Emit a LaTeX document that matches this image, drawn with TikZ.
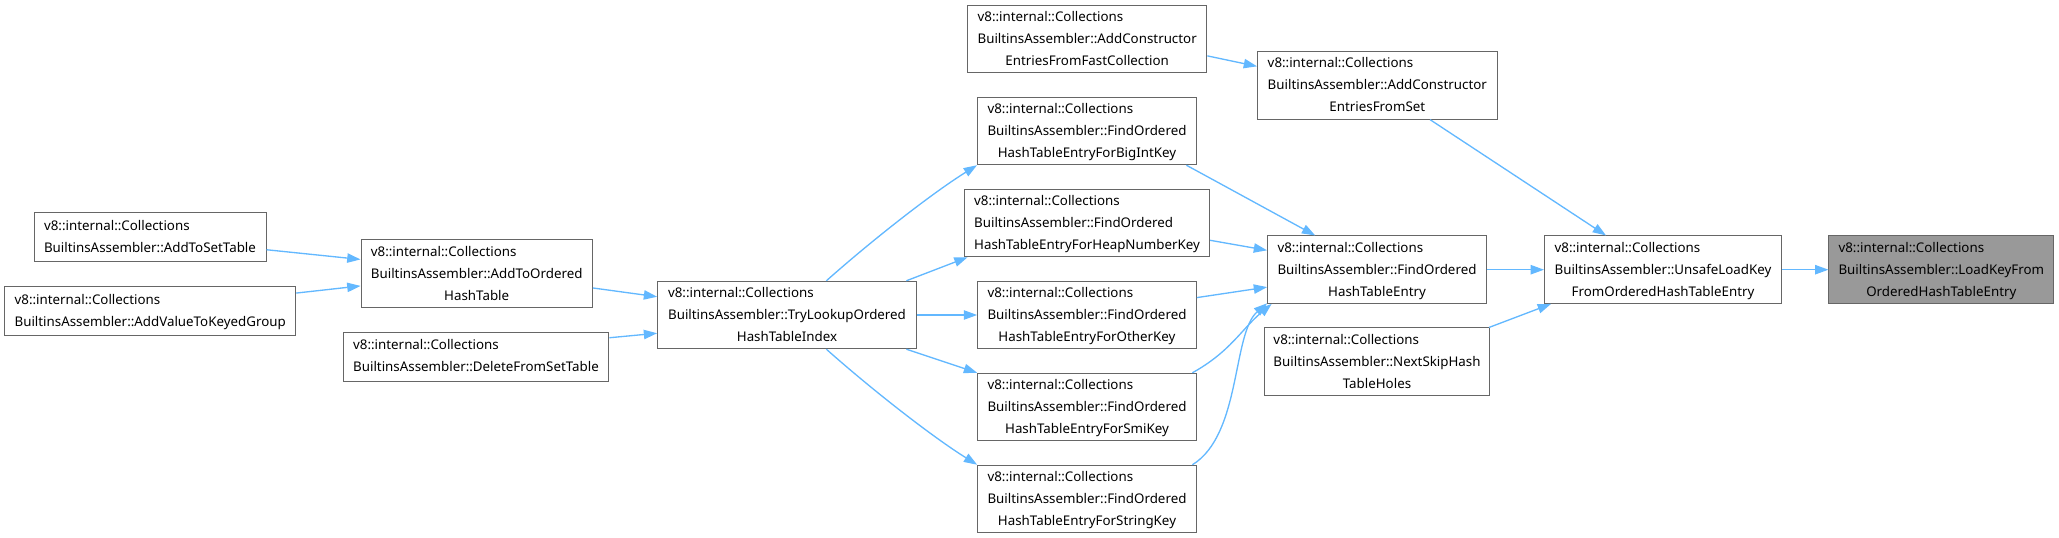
\documentclass[tikz,border=0pt]{standalone}
\usepackage{fontspec}
\setmainfont{Noto Sans}
\usetikzlibrary{arrows.meta}

\definecolor{corseta}{HTML}{63B8FF}
\definecolor{corborda}{HTML}{666666}
\definecolor{cordestaque}{HTML}{999999}

% Rótulos: primeiras linhas à esquerda, última centrada.
\newcommand{\duaslinhas}[1]{\begin{tabular}{@{}c@{}}\multicolumn{1}{@{}l@{}}{v8::internal::Collections}\\#1\end{tabular}}
\newcommand{\treslinhas}[2]{\begin{tabular}{@{}c@{}}\multicolumn{1}{@{}l@{}}{v8::internal::Collections}\\\multicolumn{1}{@{}l@{}}{#1}\\#2\end{tabular}}

\tikzset{
  funcao/.style={draw=corborda, line width=0.75pt, fill=white, inner sep=0pt,
    minimum height=36.75pt, font={\fontsize{10}{16.5}\selectfont}},
  funcao3/.style={funcao, minimum height=50.6pt},
  chamada/.style={draw=corseta, line width=1pt, -{Triangle[length=10pt,width=7pt]}},
}

\begin{document}
\begin{tikzpicture}[x=0.75pt, y=-0.75pt]
    \useasboundingbox (0,0) rectangle (2059,538);

    % Chamadores mais à esquerda.
    \node[funcao, minimum width=174pt] (addtoset) at (150,237.5) {\duaslinhas{BuiltinsAssembler::AddToSetTable}};
    \node[funcao, minimum width=218.25pt] (addvalue) at (150.2,311) {\duaslinhas{BuiltinsAssembler::AddValueToKeyedGroup}};
    \node[funcao3, minimum width=173.5pt] (addtoordered) at (476.7,273.7) {\treslinhas{BuiltinsAssembler::AddToOrdered}{HashTable}};
    \node[funcao, minimum width=199.4pt] (deletefromset) at (476,356.5) {\duaslinhas{BuiltinsAssembler::DeleteFromSetTable}};
    \node[funcao3, minimum width=194pt] (trylookup) at (787,315) {\treslinhas{BuiltinsAssembler::TryLookupOrdered}{HashTableIndex}};

    % Coluna das buscas por tipo de chave.
    \node[funcao3, minimum width=179.5pt] (ctorfast) at (1087.2,39) {\treslinhas{BuiltinsAssembler::AddConstructor}{EntriesFromFastCollection}};
    \node[funcao3, minimum width=164.25pt] (bigintkey) at (1087,131) {\treslinhas{BuiltinsAssembler::FindOrdered}{HashTableEntryForBigIntKey}};
    \node[funcao3, minimum width=184pt] (heapnumkey) at (1087,223) {\treslinhas{BuiltinsAssembler::FindOrdered}{HashTableEntryForHeapNumberKey}};
    \node[funcao3, minimum width=164pt] (otherkey) at (1087,315) {\treslinhas{BuiltinsAssembler::FindOrdered}{HashTableEntryForOtherKey}};
    \node[funcao3, minimum width=164pt] (smikey) at (1087,407) {\treslinhas{BuiltinsAssembler::FindOrdered}{HashTableEntryForSmiKey}};
    \node[funcao3, minimum width=164pt] (stringkey) at (1087,499) {\treslinhas{BuiltinsAssembler::FindOrdered}{HashTableEntryForStringKey}};

    % Coluna seguinte e função destacada.
    \node[funcao3, minimum width=179.6pt] (ctorset) at (1377.3,85.4) {\treslinhas{BuiltinsAssembler::AddConstructor}{EntriesFromSet}};
    \node[funcao3, minimum width=164.1pt] (findentry) at (1377,269.7) {\treslinhas{BuiltinsAssembler::FindOrdered}{HashTableEntry}};
    \node[funcao3, minimum width=168.75pt] (nextskip) at (1377,361.7) {\treslinhas{BuiltinsAssembler::NextSkipHash}{TableHoles}};
    \node[funcao3, minimum width=177.75pt] (unsafeload) at (1663,269.7) {\treslinhas{BuiltinsAssembler::UnsafeLoadKey}{FromOrderedHashTableEntry}};
    \node[funcao3, minimum width=168.5pt, fill=cordestaque] (loadkey) at (1941.3,269.7) {\treslinhas{BuiltinsAssembler::LoadKeyFrom}{OrderedHashTableEntry}};

    % Setas da esquerda até TryLookup.
    \draw[chamada] (addtoset.-6) -- (addtoordered.173);
    \draw[chamada] (addvalue.7) -- (addtoordered.186);
    \draw[chamada] (addtoordered.-7.5) -- (trylookup.172);
    \draw[chamada] (deletefromset.8) -- (trylookup.188);

    % TryLookup para cada tipo de chave.
    \draw[chamada] (trylookup.41) .. controls +(45,-40) and +(-45,28) .. (bigintkey.south west);
    \draw[chamada] (trylookup.16.5) -- (heapnumkey.196.4);
    \draw[chamada] (trylookup.east) -- (otherkey.west);
    \draw[chamada] (trylookup.-16.5) -- (smikey.north west);
    \draw[chamada] (trylookup.-41) .. controls +(45,40) and +(-45,-28) .. (stringkey.north west);

    % Chaves até FindOrderedHashTableEntry.
    \draw[chamada] (bigintkey.-19.6) -- (findentry.151);
    \draw[chamada] (heapnumkey.-8.7) -- (findentry.170.3);
    \draw[chamada] (otherkey.9) -- (findentry.189);
    \draw[chamada] (smikey.18.7) .. controls +(38,-21) and +(-30,25) .. (findentry.198.5);
    \draw[chamada] (stringkey.18) .. controls +(49,-30) and +(-35,30) .. (findentry.197.5);

    % Parte direita.
    \draw[chamada] (ctorfast.-8.6) -- (ctorset.171);
    \draw[chamada] (ctorset.-33) -- (unsafeload.149);
    \draw[chamada] (findentry.east) -- (unsafeload.west);
    \draw[chamada] (nextskip.17.4) -- (unsafeload.197.6);
    \draw[chamada] (unsafeload.east) -- (loadkey.west);
  \end{tikzpicture}
\end{document}
